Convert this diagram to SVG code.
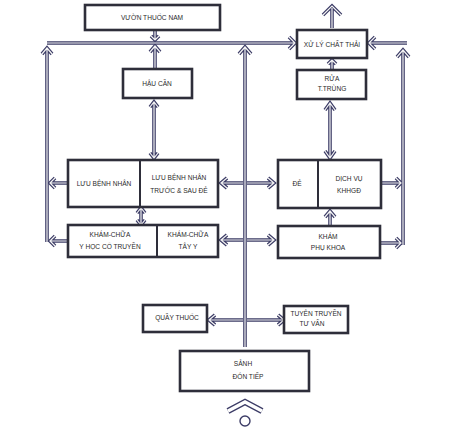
<svg xmlns="http://www.w3.org/2000/svg" xmlns:xlink="http://www.w3.org/1999/xlink" width="450" height="430" viewBox="0 0 450 430">
<style>
.box{fill:#fff;stroke:#2e2e3a;stroke-width:2.6}
.div{stroke:#2e2e3a;stroke-width:2}
.t{font-family:"Liberation Sans",Arial,sans-serif;font-size:6.6px;fill:#2a2a2a;text-anchor:middle}
.o{fill:none;stroke:#3c3c66;stroke-width:3.6;stroke-linejoin:miter;stroke-linecap:butt}
.i{fill:none;stroke:#f4f4f4;stroke-width:1.2;stroke-linejoin:miter;stroke-linecap:butt}
.eo{fill:none;stroke:#3c3c66;stroke-width:6}
.ei{fill:none;stroke:#fff;stroke-width:3.4}
</style>
<defs>
<g id="conn">
<!-- top horizontal to XU LY -->
<path d="M47,43 H294 M289,37 L295,43 L289,49"/>
<!-- left vertical -->
<path d="M47,242 V49 M42,54 L47,48 L52,54"/>
<path d="M67,183 H50 M55,178 L50,183 L55,188"/>
<path d="M67,241 H50 M55,236 L50,241 L55,246"/>
<!-- vuon -> line -->
<path d="M155,31 V40 M151,36 L155,40 L159,36"/>
<!-- hau can -> line -->
<path d="M155,68 V47 M150,52 L155,46 L160,52"/>
<!-- hau can <-> luu -->
<path d="M154,103 V157 M150,107 L154,102 L158,107 M150,153 L154,158 L158,153"/>
<!-- luu <-> kham -->
<path d="M141,209 V224 M137,213 L141,208 L145,213 M137,220 L141,225 L145,220"/>
<!-- central vertical -->
<path d="M245,347 V48 M239,54 L245,47 L251,54"/>
<path d="M243,183 H222 M227,178 L221,183 L227,188"/>
<path d="M247,183 H273 M268,178 L274,183 L268,188"/>
<path d="M243,240 H222 M227,235 L221,240 L227,245"/>
<path d="M247,240 H273 M268,235 L274,240 L268,245"/>
<path d="M243,320 H210 M215,315 L209,320 L215,325"/>
<path d="M247,320 H283 M278,315 L284,320 L278,325"/>
<!-- right side -->
<path d="M407,43 H370 M375,37 L369,43 L375,49"/>
<path d="M403,245 V51 M397,57 L403,50 L409,57"/>
<path d="M382,183 H401 M396,178 L401,183 L396,188"/>
<path d="M381,243 H401 M396,238 L401,243 L396,248"/>
<!-- rua <-> dich vu -->
<path d="M330,104 V157 M325,110 L330,103 L335,110 M325,151 L330,158 L335,151"/>
<!-- kham phu khoa -> dich vu -->
<path d="M330,225 V212 M325,217 L330,211 L335,217"/>
<!-- rua -> xu ly -->
<path d="M332,69 V61 M328,64 L332,60 L336,64"/>
<!-- top outlet -->
<path d="M332,28 V8 M323,15 L332,6 L341,15"/>
</g>
</defs>
<g id="connectors">
<use xlink:href="#conn" class="o"/>
<use xlink:href="#conn" class="i"/>
</g>
<g id="vuon-thuoc-nam"><rect class="box" x="85" y="5" width="135" height="25"/><text class="t" x="152" y="20">VƯỜN THUỐC NAM</text></g>
<g id="hau-can"><rect class="box" x="123" y="69" width="69" height="29"/><text class="t" x="157" y="86">HẬU CẦN</text></g>
<g id="xu-ly-chat-thai"><rect class="box" x="297" y="30" width="70" height="28"/><text class="t" x="332" y="47">XỬ LÝ CHẤT THẢI</text></g>
<g id="rua-t-trung"><rect class="box" x="297" y="70" width="69" height="29"/><text class="t" x="332" y="81">RỬA</text><text class="t" x="332" y="91">T.TRÙNG</text></g>
<g id="luu-benh-nhan"><rect class="box" x="68" y="160" width="150" height="47"/><line class="div" x1="140" y1="160" x2="140" y2="207"/><text class="t" x="104" y="186">LƯU BỆNH NHÂN</text><text class="t" x="179" y="180">LƯU BỆNH NHÂN</text><text class="t" x="179" y="193">TRƯỚC &amp; SAU ĐẺ</text></g>
<g id="kham-chua"><rect class="box" x="68" y="225" width="150" height="32"/><line class="div" x1="157" y1="225" x2="157" y2="257"/><text class="t" x="110" y="237">KHÁM-CHỮA</text><text class="t" x="110" y="249">Y HỌC CỔ TRUYỀN</text><text class="t" x="188" y="237">KHÁM-CHỮA</text><text class="t" x="188" y="249">TÂY Y</text></g>
<g id="de-dich-vu"><rect class="box" x="278" y="160" width="103" height="48"/><line class="div" x1="318" y1="160" x2="318" y2="208"/><text class="t" x="297" y="186">ĐẺ</text><text class="t" x="349" y="181">DỊCH VỤ</text><text class="t" x="349" y="193">KHHGĐ</text></g>
<g id="kham-phu-khoa"><rect class="box" x="278" y="226" width="102" height="32"/><text class="t" x="328" y="239">KHÁM</text><text class="t" x="328" y="250">PHỤ KHOA</text></g>
<g id="quay-thuoc"><rect class="box" x="143" y="305" width="64" height="27"/><text class="t" x="177" y="320">QUẦY THUỐC</text></g>
<g id="tuyen-truyen"><rect class="box" x="284" y="306" width="64" height="27"/><text class="t" x="316" y="316">TUYÊN TRUYỀN</text><text class="t" x="312" y="326">TƯ VẤN</text></g>
<g id="sanh-don-tiep"><rect class="box" x="180" y="351" width="129" height="40"/><text class="t" x="243" y="366">SẢNH</text><text class="t" x="248" y="379">ĐÓN TIẾP</text></g>
<g id="entrance">
<path class="eo" d="M228,411 L245,402 L262,411"/>
<path class="ei" d="M228,411 L245,402 L262,411"/>
<circle cx="245" cy="421" r="5" fill="#fff" stroke="#3c3c66" stroke-width="1.4"/>
</g>
</svg>
